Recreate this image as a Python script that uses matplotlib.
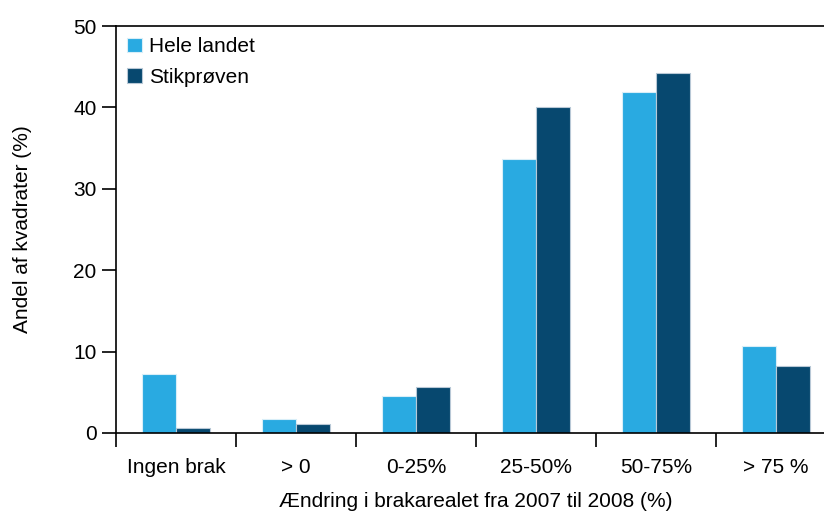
import matplotlib
matplotlib.use("Agg")
import matplotlib.pyplot as plt
import numpy as np

categories = ["Ingen brak", "> 0", "0-25%", "25-50%", "50-75%", "> 75 %"]
hele_landet = [7.3, 1.7, 4.6, 33.6, 41.9, 10.7]
stikproeven = [0.6, 1.1, 5.7, 40.1, 44.2, 8.2]
yticks = [0, 10, 20, 30, 40, 50]

plt.rcParams['font.family'] = ['Liberation Sans', 'DejaVu Sans']

W, H = 824, 513
fig = plt.figure(figsize=(W / 100, H / 100), dpi=100)
x0, x1, y0, y1 = 116, 836, 433, 26
ax = fig.add_axes([x0 / W, 1 - y0 / H, (x1 - x0) / W, (y0 - y1) / H])

x = np.arange(len(categories))
bw = 0.285
light = "#29AAE1"
dark = "#07486F"
fs = 15
ax.bar(x - bw / 2, hele_landet, bw, color=light, edgecolor="#d8eef8", linewidth=0.8, label="Hele landet")
ax.bar(x + bw / 2, stikproeven, bw, color=dark, edgecolor="#b8c8d6", linewidth=0.8, label="Stikprøven")

ax.set_xlim(-0.5, len(categories) - 0.5)
ax.set_ylim(0, 50)
ax.set_yticks(yticks)
ax.set_yticklabels([str(v) for v in yticks], fontsize=fs)
ax.set_xticks(np.arange(len(categories) + 1) - 0.5)
ax.set_xticklabels([])
ax.set_xticks(x, minor=True)
ax.set_xticklabels(categories, minor=True, fontsize=fs)
ax.tick_params(axis='x', which='minor', length=0, pad=18)
ax.tick_params(axis='x', which='major', length=10, width=1.2, direction='out')
ax.tick_params(axis='y', length=10, width=1.2, direction='out', pad=4)

for s in ['left', 'bottom', 'top']:
    ax.spines[s].set_linewidth(1.2)
ax.spines['right'].set_visible(False)

ax.set_ylabel("Andel af kvadrater (%)", fontsize=fs, labelpad=30)
ax.set_xlabel("Ændring i brakarealet fra 2007 til 2008 (%)", fontsize=fs, labelpad=11)

ax.legend(loc='upper left', frameon=False, fontsize=fs, handlelength=0.7, handleheight=0.7,
          handletextpad=0.35, labelspacing=0.55, borderaxespad=0.15, bbox_to_anchor=(0.0, 1.0))

fig.savefig("out.png", dpi=100)
